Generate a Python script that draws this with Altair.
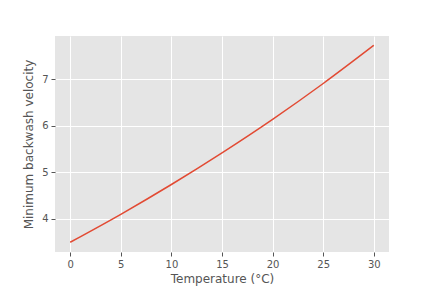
import altair as alt
import pandas as pd

temperature = [0, 5, 10, 15, 20, 25, 30]
velocity = [3.50, 4.10, 4.74, 5.42, 6.14, 6.91, 7.73]

df = pd.DataFrame({"t": temperature, "v": velocity})

axis_common = dict(
    gridColor="white", gridWidth=1, domain=False,
    tickColor="#555555", tickSize=4, tickWidth=1,
    labelColor="#555555", labelFont="DejaVu Sans", labelFontSize=10,
    labelPadding=3,
    titleColor="#555555", titleFont="DejaVu Sans", titleFontSize=12,
    titleFontWeight="normal",
)

chart = alt.Chart(df).mark_line(color="#E24A33", strokeWidth=1.5, interpolate="monotone").encode(
    x=alt.X("t:Q", title="Temperature (°C)",
            scale=alt.Scale(domain=[-1.5, 31.5], nice=False, zero=False),
            axis=alt.Axis(values=[0, 5, 10, 15, 20, 25, 30], titlePadding=4, **axis_common)),
    y=alt.Y("v:Q", title="Minimum backwash velocity",
            scale=alt.Scale(domain=[3.29, 7.93], nice=False, zero=False),
            axis=alt.Axis(values=[4, 5, 6, 7], titlePadding=6, **axis_common)),
).properties(
    width=334, height=216,
    autosize=alt.AutoSizeParams(type="none"),
    padding={"left": 47, "top": 28, "right": 20, "bottom": 40},
).configure(
    background="white",
    view=alt.ViewConfig(fill="#E5E5E5", stroke=None),
)

chart.save("out.html", embed_options={"renderer": "svg", "actions": False})
